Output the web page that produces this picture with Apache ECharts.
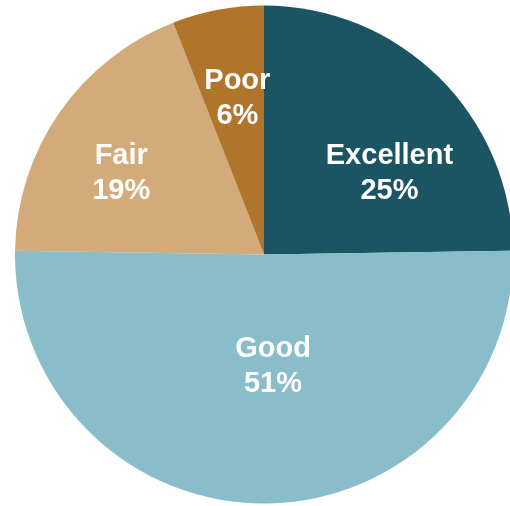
<!DOCTYPE html>
<html>
<head>
<meta charset="utf-8">
<script src="https://cdn.jsdelivr.net/npm/echarts@6/dist/echarts.min.js"></script>
<style>
html,body{margin:0;padding:0;background:#fff;}
#chart{width:510px;height:506px;}
</style>
</head>
<body>
<div id="chart"></div>
<script>
const categories = ['Excellent', 'Good', 'Fair', 'Poor'];
const values = [25, 51, 19, 6];
const colors = ['#1b5462', '#88bdc9', '#d3ab7a', '#b0742b'];
const labelShift = [[36, 10], [9, -16], [-38, -8], [-3, -31]];

const chart = echarts.init(document.getElementById('chart'), null, {renderer: 'canvas'});
chart.setOption({
  animation: false,
  series: [{
    type: 'pie',
    center: [264, 254.5],
    radius: [0, 249],
    startAngle: 90,
    clockwise: true,
    avoidLabelOverlap: false,
    emphasis: {disabled: true},
    itemStyle: {borderWidth: 0},
    label: {
      show: true,
      position: 'inside',
      formatter: '{b}\n{c}%',
      color: '#ffffff',
      fontFamily: '"Liberation Sans", Arial, sans-serif',
      fontWeight: 'bold',
      fontSize: 29,
      lineHeight: 35,
      align: 'center'
    },
    labelLine: {show: false},
    labelLayout: function (params) {
      const s = labelShift[params.dataIndex];
      return {dx: s[0], dy: s[1]};
    },
    data: categories.map((c, i) => ({
      name: c,
      value: values[i],
      itemStyle: {color: colors[i]}
    }))
  }]
});
</script>
</body>
</html>
